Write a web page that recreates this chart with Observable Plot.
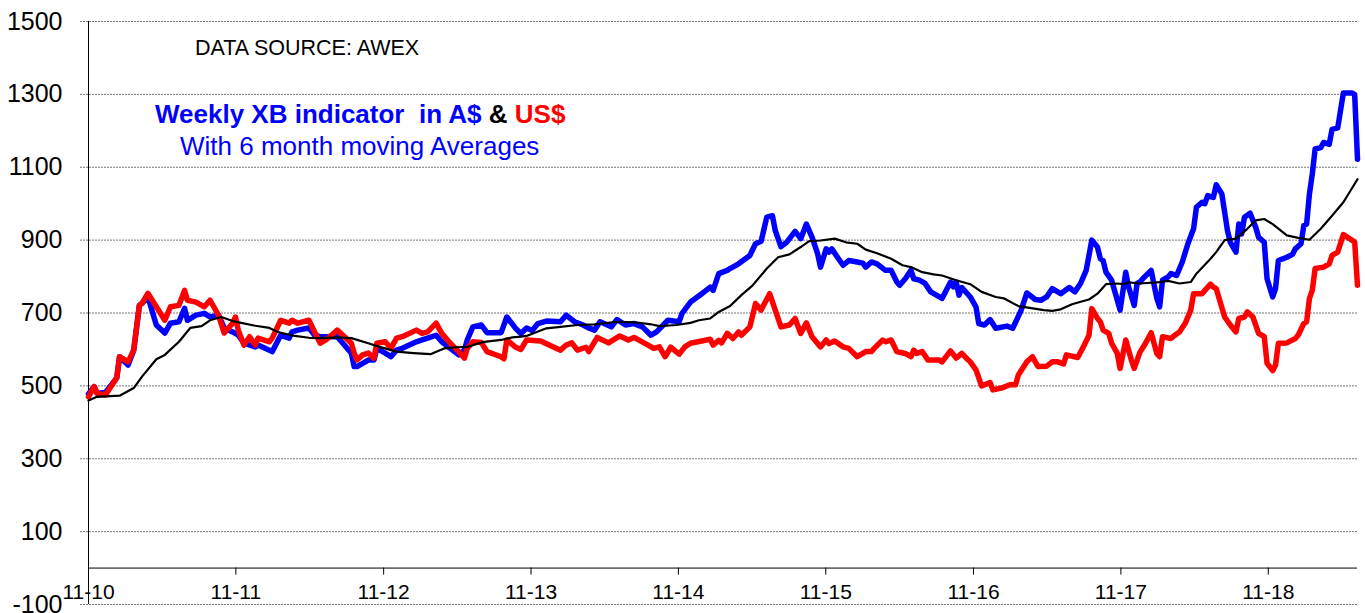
<!DOCTYPE html>
<html><head><meta charset="utf-8">
<script src="https://cdn.jsdelivr.net/npm/d3@7"></script>
<script src="https://cdn.jsdelivr.net/npm/@observablehq/plot@0.6"></script>
<style>
html,body{margin:0;padding:0;background:#fff;}
#chart{width:1365px;height:613px;}
</style></head><body><div id="chart"></div>
<script>
// ---- data ----
const startDate = "2010-11-01";           // first weekly sale (week 0)
const lastWeek = 449;
const yTicks = [-100, 100, 300, 500, 700, 900, 1100, 1300, 1500];
const xTickDates = ["2010-11-01","2011-11-01","2012-11-01","2013-11-01","2014-11-01","2015-11-01","2016-11-01","2017-11-01","2018-11-01"];
const sourceText = "DATA SOURCE: AWEX";
const titleParts = [["Weekly XB indicator  in A$ ", "#0000ff"], ["& ", "#000000"], ["US$", "#ff0000"]];
const subtitleText = "With 6 month moving Averages";

// [week number, XB indicator in A$ cents/kg]
const audXB = [[0,478],[2,498],[3,480],[6,482],[10,522],[11,580],[14,557],[16,598],[18,721],[19,727],[21,745],[24,667],[27,645],[29,672],[32,676],[34,713],[35,680],[38,694],[41,699],[43,689],[46,694],[48,659],[51,648],[53,639],[55,617],[59,607],[60,612],[64,598],[65,594],[68,639],[71,631],[72,648],[74,653],[78,659],[80,639],[82,635],[84,635],[88,635],[90,617],[93,590],[94,553],[95,553],[97,562],[99,571],[101,571],[102,603],[105,590],[107,580],[109,598],[111,603],[116,621],[118,626],[120,631],[123,639],[125,621],[128,603],[131,585],[133,598],[134,626],[136,662],[139,667],[141,646],[146,646],[148,689],[151,659],[153,644],[155,659],[157,652],[159,671],[162,678],[167,676],[169,694],[172,676],[175,667],[177,659],[179,653],[181,676],[185,662],[187,682],[190,667],[193,671],[196,662],[199,639],[201,648],[205,680],[209,676],[210,699],[213,730],[217,753],[220,771],[221,762],[223,808],[226,817],[227,822],[230,835],[234,858],[236,890],[238,897],[240,963],[242,967],[243,926],[245,882],[247,894],[250,924],[252,904],[254,944],[256,908],[258,862],[259,826],[261,876],[262,867],[263,876],[265,853],[267,831],[269,844],[272,840],[274,837],[275,826],[277,840],[279,835],[282,817],[284,817],[286,785],[287,776],[289,794],[291,817],[292,794],[294,790],[296,781],[298,758],[302,740],[305,785],[306,772],[307,785],[308,749],[309,770],[312,744],[314,717],[315,671],[317,667],[319,682],[321,658],[325,664],[327,658],[330,708],[332,755],[335,737],[337,735],[339,744],[341,767],[344,753],[347,770],[349,758],[351,781],[353,817],[355,900],[357,881],[358,849],[359,844],[360,812],[362,790],[365,708],[367,812],[368,772],[370,721],[371,781],[372,785],[373,794],[376,817],[378,740],[379,717],[380,790],[382,799],[383,808],[385,803],[387,840],[389,890],[391,931],[392,990],[394,1004],[395,1000],[396,1022],[398,1017],[399,1052],[401,1027],[403,926],[404,894],[406,867],[407,944],[408,917],[409,963],[411,974],[413,935],[414,908],[416,894],[417,794],[419,744],[420,767],[421,844],[424,853],[426,861],[427,876],[429,890],[430,940],[431,944],[432,1027],[433,1081],[434,1150],[436,1154],[437,1168],[439,1163],[440,1204],[442,1208],[444,1304],[447,1304],[448,1300],[449,1122]];

// [week number, XB indicator in US$ cents/kg]
const usdXB = [[0,470],[2,498],[3,480],[6,475],[10,522],[11,580],[14,566],[16,598],[18,721],[19,727],[21,754],[24,717],[27,680],[29,717],[32,721],[34,762],[35,735],[38,730],[41,717],[43,735],[46,694],[48,645],[51,672],[52,689],[53,653],[55,612],[57,635],[59,612],[60,631],[64,621],[65,631],[68,680],[71,672],[72,680],[74,672],[78,680],[80,648],[82,617],[84,626],[86,639],[88,653],[90,639],[93,617],[94,590],[95,571],[97,585],[99,590],[101,576],[102,617],[105,621],[107,603],[109,631],[111,635],[116,653],[118,644],[120,648],[123,672],[125,644],[128,617],[131,594],[133,576],[134,603],[136,621],[139,619],[141,594],[146,580],[147,574],[148,626],[151,607],[153,600],[155,626],[160,623],[163,612],[167,598],[169,612],[171,618],[173,598],[176,606],[177,594],[180,633],[184,618],[188,637],[191,626],[193,633],[198,612],[200,603],[202,607],[204,580],[206,606],[209,587],[211,607],[213,617],[220,628],[221,612],[223,625],[224,618],[226,644],[228,630],[230,648],[231,639],[234,662],[236,726],[238,708],[241,753],[243,708],[245,662],[248,667],[250,685],[252,644],[254,673],[256,635],[259,607],[261,626],[262,616],[264,623],[267,607],[269,603],[272,580],[275,594],[277,594],[278,603],[281,626],[282,621],[284,626],[286,594],[289,589],[291,580],[292,598],[293,589],[295,594],[297,571],[301,571],[302,566],[305,596],[307,576],[309,589],[311,573],[312,566],[314,544],[316,500],[319,509],[320,489],[323,494],[326,503],[328,503],[329,530],[332,566],[334,580],[335,566],[336,553],[339,554],[341,566],[343,566],[345,560],[346,585],[350,578],[352,607],[354,639],[355,712],[357,685],[358,676],[359,653],[361,644],[362,617],[364,589],[365,548],[367,626],[369,571],[370,548],[372,592],[374,617],[376,646],[378,589],[379,580],[380,635],[383,630],[384,637],[386,648],[388,671],[390,708],[391,753],[394,753],[395,762],[397,779],[398,771],[399,767],[402,689],[404,667],[406,648],[407,685],[409,689],[410,703],[412,689],[414,644],[416,635],[417,562],[419,542],[420,557],[421,617],[424,618],[427,630],[428,639],[430,671],[431,676],[432,740],[433,762],[434,822],[437,826],[439,835],[440,858],[442,867],[444,915],[447,900],[448,895],[449,776]];

// [week number, 6 month moving average of the A$ indicator]
const audMA = [[0,460],[3,470],[11,473],[16,494],[19,526],[24,573],[27,585],[32,621],[36,659],[40,664],[43,680],[47,689],[51,678],[54,673],[59,665],[64,659],[67,648],[73,637],[78,632],[82,631],[88,633],[93,631],[99,617],[103,607],[109,594],[115,590],[121,587],[126,603],[130,606],[134,607],[140,621],[146,626],[150,633],[153,635],[155,637],[162,658],[167,662],[173,667],[179,669],[187,676],[194,674],[199,669],[202,664],[208,667],[213,673],[216,680],[220,685],[223,703],[227,719],[231,749],[235,776],[240,822],[244,853],[248,861],[252,881],[255,897],[259,899],[264,904],[268,894],[272,890],[275,874],[279,864],[284,849],[288,831],[291,826],[295,812],[299,806],[302,803],[307,790],[312,779],[316,758],[321,744],[324,740],[329,719],[333,714],[338,708],[341,706],[344,710],[348,724],[352,733],[354,737],[357,753],[360,779],[364,781],[366,779],[368,784],[372,781],[379,785],[382,788],[386,781],[390,785],[392,808],[397,849],[399,867],[402,900],[406,904],[410,931],[413,954],[416,958],[419,944],[424,913],[428,906],[432,901],[436,931],[440,967],[444,1004],[449,1067]];

// ---- chart ----
const parse = d3.timeParse("%Y-%m-%d");
const start = parse(startDate);
const weekDate = w => d3.timeDay.offset(start, w * 7);
const rows = pairs => pairs.map(([w, v]) => ({date: weekDate(w), value: v}));
const xTicks = xTickDates.map(parse);

const W = 1365, H = 613, mt = 21, mb = 9, ml = 88, mr = 8;
const yDomain = [-100, 1500];
const yPix = d3.scaleLinear(yDomain, [H - mb, mt]);
const xAxisShift = yPix(0) - (H - mb);   // x axis crosses at value 0

const chart = Plot.plot({
  width: W, height: H,
  marginTop: mt, marginBottom: mb, marginLeft: ml, marginRight: mr,
  style: {fontFamily: "'Liberation Sans', Arial, sans-serif", background: "#fff", color: "#000", overflow: "visible"},
  x: {type: "time", domain: [start, weekDate(lastWeek)], label: null},
  y: {domain: yDomain, label: null},
  marks: [
    Plot.ruleY(yTicks, {stroke: "#777777", strokeDasharray: "2,1", insetLeft: -8}),
    Plot.axisY(yTicks, {tickSize: 0, tickPadding: 26, fontSize: 25, label: null, tickFormat: d => String(d)}),
    Plot.axisX(xTicks, {tickSize: 7, tickPadding: 9, fontSize: 21, label: null, tickFormat: d3.timeFormat("%m-%y"), dy: xAxisShift}),
    Plot.ruleY([0], {stroke: "#000"}),
    Plot.ruleX([start], {stroke: "#000"}),
    Plot.line(rows(audXB), {x: "date", y: "value", stroke: "#0000ff", strokeWidth: 5.5, strokeLinejoin: "round", strokeLinecap: "round"}),
    Plot.line(rows(usdXB), {x: "date", y: "value", stroke: "#ff0000", strokeWidth: 5.5, strokeLinejoin: "round", strokeLinecap: "round"}),
    Plot.line(rows(audMA), {x: "date", y: "value", stroke: "#000000", strokeWidth: 2.2, strokeLinejoin: "round"})
  ]
});

const svg = d3.select(chart);
const note = svg.append("g").attr("text-anchor", "start");
note.append("text").attr("x", 195).attr("y", 55).attr("font-size", 21.5).attr("fill", "#000").text(sourceText);
const t = note.append("text").attr("x", 155).attr("y", 123).attr("font-size", 26).attr("font-weight", "bold").style("white-space", "pre");
titleParts.forEach(([s, c]) => t.append("tspan").attr("fill", c).text(s));
note.append("text").attr("x", 180).attr("y", 155).attr("font-size", 26).attr("fill", "#0000ff").text(subtitleText);

document.getElementById("chart").appendChild(chart);
</script>
</body></html>
